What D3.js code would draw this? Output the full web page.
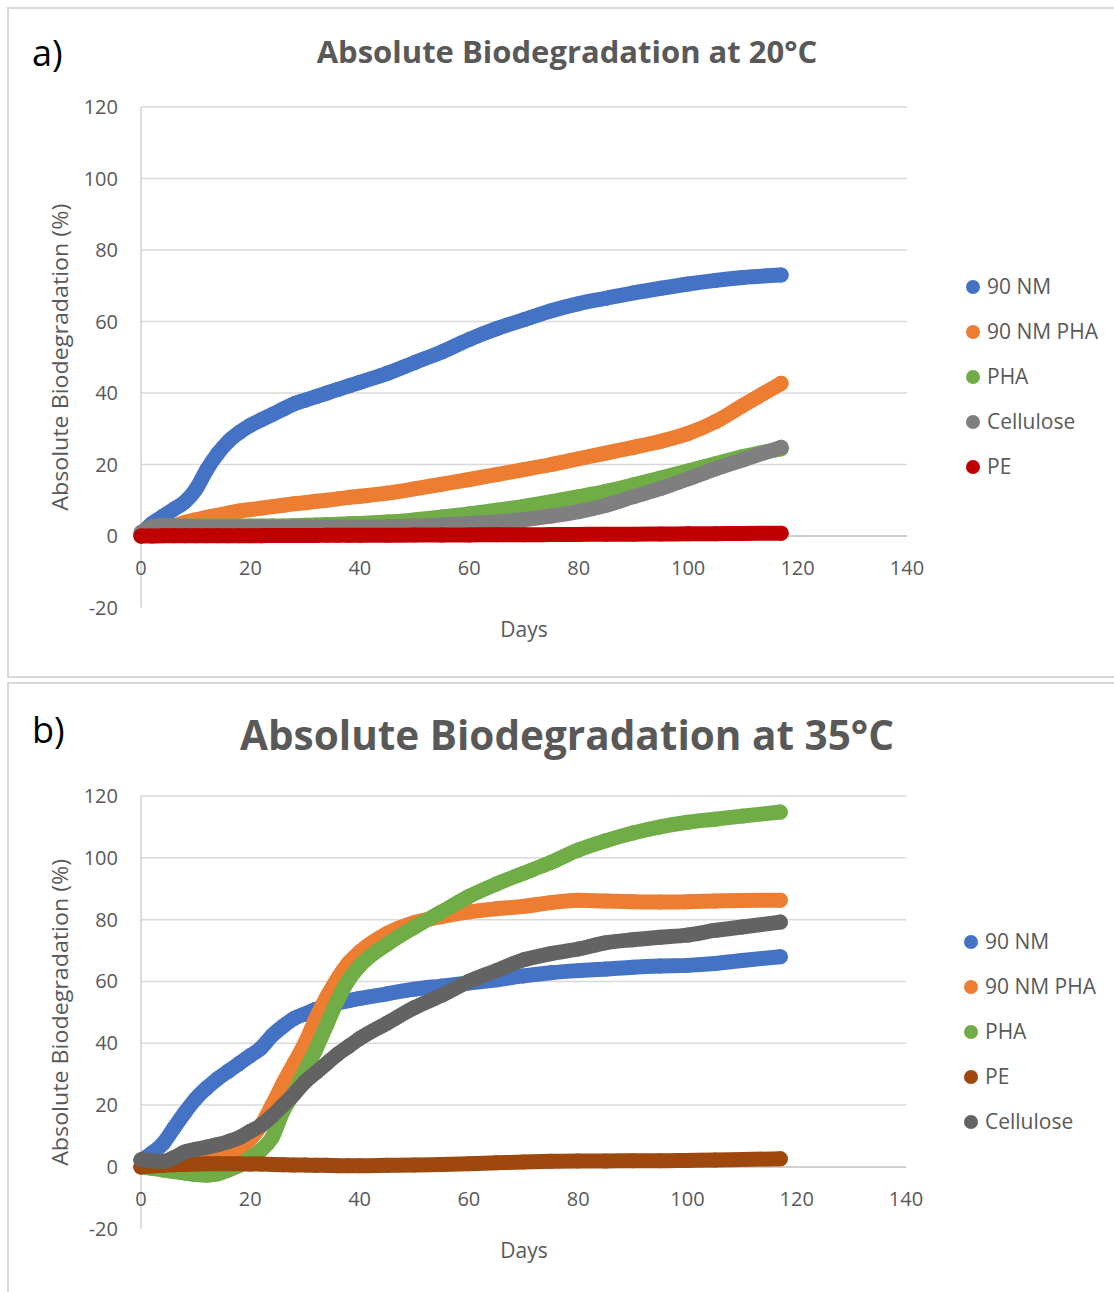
<!DOCTYPE html>
<html>
<head>
<meta charset="utf-8">
<script src="https://cdn.jsdelivr.net/npm/d3@7"></script>
<style>
  body { margin: 0; background: #fff; }
  svg { display: block; font-family: "Open Sans", sans-serif; }
</style>
</head>
<body>
<div id="chart"></div>
<script>
// sampling days shared by every series
const days = [0, 2, 4, 6, 8, 10, 12, 14, 16, 18, 20, 22, 24, 26, 28, 30, 32, 34, 36, 38, 40,
              45, 50, 55, 60, 65, 70, 75, 80, 85, 90, 95, 100, 105, 110, 117];

// a) 20°C
const nm20 = [0.5, 3.5, 5.5, 7.5, 9.5, 13, 18.5, 23, 26.5, 29, 31, 32.5, 34, 35.5, 37, 38, 39, 40, 41, 42, 43,
              45.5, 48.5, 51.5, 55, 58, 60.5, 63, 65, 66.5, 68, 69.3, 70.5, 71.5, 72.3, 73];
const nmPha20 = [0, 0.8, 1.8, 2.8, 3.8, 4.5, 5.2, 5.8, 6.4, 7, 7.4, 7.8, 8.2, 8.6, 9, 9.3, 9.7, 10, 10.4, 10.8, 11.1,
                 12, 13.2, 14.5, 15.8, 17.2, 18.6, 20, 21.6, 23.2, 24.8, 26.5, 28.7, 32, 36.5, 42.7];
const pha20 = [0, 2, 2.6, 2.8, 2.8, 2.8, 2.8, 2.8, 2.8, 2.8, 2.8, 2.8, 2.8, 2.8, 2.9, 3, 3.1, 3.2, 3.3, 3.4, 3.5,
               3.9, 4.5, 5.3, 6.2, 7.2, 8.3, 9.6, 11, 12.5, 14.3, 16.2, 18.2, 20.2, 22.2, 24.4];
const cell20 = [1, 2.6, 3, 2.9, 2.7, 2.6, 2.5, 2.5, 2.5, 2.5, 2.5, 2.5, 2.5, 2.5, 2.5, 2.5, 2.5, 2.5, 2.5, 2.5, 2.5,
                2.6, 2.8, 3.1, 3.5, 3.9, 4.6, 5.6, 6.8, 8.6, 11, 13.3, 16, 18.8, 21.3, 24.8];
const pe20 = [0, 0, 0.05, 0.05, 0.05, 0.1, 0.1, 0.1, 0.1, 0.1, 0.1, 0.1, 0.15, 0.15, 0.15, 0.15, 0.15, 0.2, 0.2, 0.2, 0.2,
              0.2, 0.25, 0.25, 0.3, 0.35, 0.35, 0.4, 0.45, 0.5, 0.5, 0.55, 0.6, 0.65, 0.7, 0.8];

// b) 35°C
const nm35 = [2, 4.5, 7.5, 12.5, 17.5, 22, 25.5, 28.5, 31, 33.5, 36, 38.5, 42.5, 45.5, 48, 49.5, 51, 52, 53, 53.8, 54.5,
              56, 57.5, 58.5, 59.5, 60.5, 61.8, 62.8, 63.5, 64, 64.6, 65, 65.2, 65.8, 66.8, 68];
const nmPha35 = [0, 0.3, 0.5, 1, 1.5, 2, 2.8, 3.5, 4.3, 6, 9, 13.5, 20, 27, 33.5, 40, 48, 55, 61, 66, 69.5,
                 75.5, 79, 81, 82.5, 83.5, 84.3, 85.5, 86.3, 86, 85.8, 85.7, 85.8, 86, 86.2, 86.3];
const pha35 = [0, -0.5, -1, -1.5, -2, -2.5, -2.7, -2.3, -1, 0.5, 3, 5.5, 9.5, 18, 24, 31, 38, 46, 54, 60.5, 65,
               72, 77.5, 82.5, 87.5, 91.5, 95, 98.5, 102.5, 105.5, 108, 110, 111.5, 112.5, 113.5, 114.8];
const pe35 = [0, 0.3, 0.5, 0.7, 0.8, 0.9, 1, 1, 1, 1, 0.9, 0.9, 0.8, 0.7, 0.6, 0.6, 0.5, 0.5, 0.4, 0.4, 0.4,
              0.5, 0.6, 0.8, 1, 1.3, 1.6, 1.8, 1.9, 1.9, 2, 2, 2.1, 2.2, 2.4, 2.6];
const cell35 = [2.3, 2, 1.8, 3, 4.8, 5.7, 6.4, 7.2, 8.2, 9.5, 11.5, 13.5, 16.5, 20, 23.5, 27.5, 30.5, 33.5, 36.5, 39, 41.5,
                46.5, 51.5, 55.5, 60, 63.5, 67, 69, 70.5, 72.5, 73.5, 74.3, 75, 76.5, 77.6, 79.2];

const xTicks = [0, 20, 40, 60, 80, 100, 120, 140];
const yTicks = [-20, 0, 20, 40, 60, 80, 100, 120];

const panels = [
  {
    tag: "a)", title: "Absolute Biodegradation at 20°C",
    series: [
      {name: "90 NM", values: nm20, color: "#4472C4"},
      {name: "90 NM PHA", values: nmPha20, color: "#ED7D31"},
      {name: "PHA", values: pha20, color: "#70AD47"},
      {name: "Cellulose", values: cell20, color: "#7F7F7F"},
      {name: "PE", values: pe20, color: "#C00000"}
    ],
    box: {top: 8, bottom: 677},
    plot: {left: 141, right: 907, top: 107, bottom: 607.5},
    titleY: 52, titleSize: 31, tagY: 66, legendX: 973, legendY: 287
  },
  {
    tag: "b)", title: "Absolute Biodegradation at 35°C",
    series: [
      {name: "90 NM", values: nm35, color: "#4472C4"},
      {name: "90 NM PHA", values: nmPha35, color: "#ED7D31"},
      {name: "PHA", values: pha35, color: "#70AD47"},
      {name: "PE", values: pe35, color: "#9E480E"},
      {name: "Cellulose", values: cell35, color: "#636363"}
    ],
    box: {top: 683, bottom: 1300},
    plot: {left: 141, right: 906, top: 796, bottom: 1228.7},
    titleY: 736, titleSize: 40.5, tagY: 743, legendX: 971, legendY: 942
  }
];

const W = 1114, H = 1292;
const svg = d3.select("#chart").append("svg")
    .attr("width", W)
    .attr("height", H);

panels.forEach(p => {
    let g = svg.append("g");

    // panel frame
    g.append("rect")
        .attr("x", 8).attr("y", p.box.top)
        .attr("width", W + 10).attr("height", p.box.bottom - p.box.top)
        .attr("fill", "white")
        .attr("stroke", "#d9d9d9")
        .attr("stroke-width", 2);

    let x = d3.scaleLinear().domain([0, 140]).range([p.plot.left, p.plot.right]);
    let y = d3.scaleLinear().domain([-20, 120]).range([p.plot.bottom, p.plot.top]);

    // gridlines (no line at -20)
    g.selectAll(".grid")
        .data(yTicks.filter(t => t > 0))
        .enter().append("line")
        .attr("x1", x(0)).attr("x2", x(140))
        .attr("y1", d => y(d)).attr("y2", d => y(d))
        .attr("stroke", "#d9d9d9")
        .attr("stroke-width", 1.5);

    // vertical axis line
    g.append("line")
        .attr("x1", x(0)).attr("x2", x(0))
        .attr("y1", y(120)).attr("y2", y(-20))
        .attr("stroke", "#d0d0d0").attr("stroke-width", 1.5);

    // zero line (horizontal axis)
    g.append("line")
        .attr("x1", x(0)).attr("x2", x(140))
        .attr("y1", y(0)).attr("y2", y(0))
        .attr("stroke", "#bfbfbf").attr("stroke-width", 1.5);

    // y tick labels
    g.selectAll(".ytick")
        .data(yTicks)
        .enter().append("text")
        .attr("x", p.plot.left - 23)
        .attr("y", d => y(d))
        .attr("dy", "0.35em")
        .attr("text-anchor", "end")
        .attr("font-size", 20)
        .attr("fill", "#595959")
        .text(d => d);

    // x tick labels, just under the zero line
    g.selectAll(".xtick")
        .data(xTicks)
        .enter().append("text")
        .attr("x", d => x(d))
        .attr("y", y(0) + 39)
        .attr("text-anchor", "middle")
        .attr("font-size", 20)
        .attr("fill", "#595959")
        .text(d => d);

    // axis titles
    g.append("text")
        .attr("x", 524)
        .attr("y", p.plot.bottom + 29)
        .attr("text-anchor", "middle")
        .attr("font-size", 21)
        .attr("fill", "#595959")
        .text("Days");

    g.append("text")
        .attr("transform", `translate(68, ${(p.plot.top + p.plot.bottom) / 2}) rotate(-90)`)
        .attr("text-anchor", "middle")
        .attr("font-size", 22)
        .attr("textLength", 307)
        .attr("lengthAdjust", "spacingAndGlyphs")
        .attr("fill", "#595959")
        .text("Absolute Biodegradation (%)");

    // chart title and panel tag
    g.append("text")
        .attr("x", 567).attr("y", p.titleY)
        .attr("dy", "0.35em")
        .attr("text-anchor", "middle")
        .attr("font-size", p.titleSize)
        .attr("font-weight", "bold")
        .attr("fill", "#595959")
        .text(p.title);

    g.append("text")
        .attr("x", 32).attr("y", p.tagY)
        .attr("font-size", 36)
        .attr("fill", "black")
        .text(p.tag);

    // series: dense round markers read as a thick line
    let line = d3.line()
        .x((d, i) => x(days[i]))
        .y(d => y(d))
        .curve(d3.curveMonotoneX);

    p.series.forEach(s => {
        g.append("path")
            .datum(s.values)
            .attr("d", line)
            .attr("fill", "none")
            .attr("stroke", s.color)
            .attr("stroke-width", 15)
            .attr("stroke-linecap", "round")
            .attr("stroke-linejoin", "round");

        g.selectAll(null)
            .data(s.values)
            .enter().append("circle")
            .attr("cx", (d, i) => x(days[i]))
            .attr("cy", d => y(d))
            .attr("r", 7.5)
            .attr("fill", s.color);
    });

    // legend
    let leg = g.selectAll(".leg")
        .data(p.series)
        .enter().append("g")
        .attr("transform", (d, i) => `translate(${p.legendX}, ${p.legendY + i * 45})`);

    leg.append("circle")
        .attr("r", 7)
        .attr("fill", d => d.color);

    leg.append("text")
        .attr("x", 14)
        .attr("dy", "0.35em")
        .attr("font-size", 21)
        .attr("fill", "#595959")
        .text(d => d.name);
});
</script>
</body>
</html>
